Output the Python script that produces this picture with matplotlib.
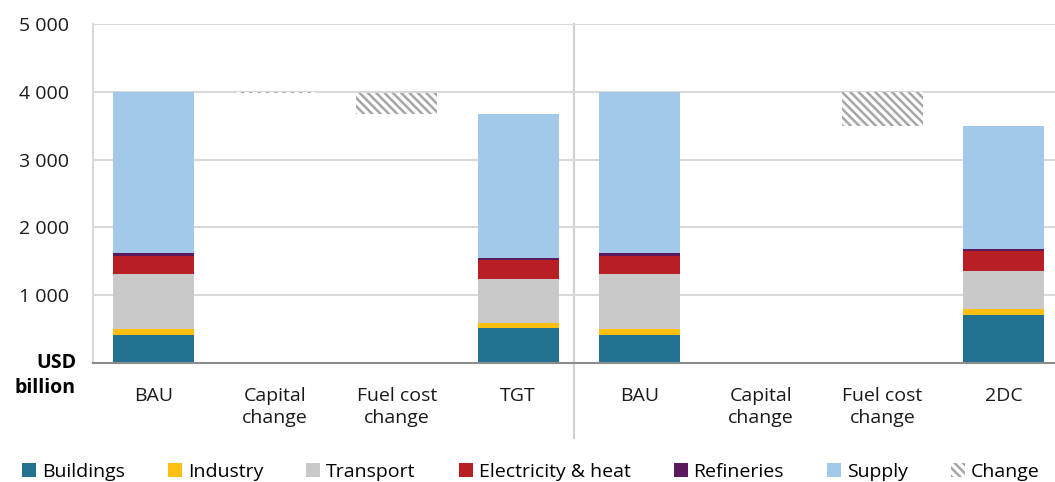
import matplotlib
matplotlib.use("Agg")
import matplotlib.pyplot as plt
from matplotlib.patches import Patch
from matplotlib.lines import Line2D
import numpy as np

plt.rcParams['font.family'] = ['Open Sans', 'DejaVu Sans']
plt.rcParams['hatch.linewidth'] = 1.8

# categories on the x axis
categories = ["BAU", "Capital\nchange", "Fuel cost\nchange", "TGT",
              "BAU", "Capital\nchange", "Fuel cost\nchange", "2DC"]

# stacked sectors for the scenario bars (USD billion); None for change columns
sectors = ["Buildings", "Industry", "Transport", "Electricity & heat", "Refineries", "Supply"]
buildings = [410, None, None, 515, 410, None, None, 705]
industry = [95, None, None, 80, 95, None, None, 90]
transport = [810, None, None, 645, 810, None, None, 555]
electricity = [270, None, None, 280, 270, None, None, 295]
refineries = [35, None, None, 35, 35, None, None, 35]
supply = [2380, None, None, 2120, 2380, None, None, 1820]

# waterfall changes between scenarios
changes = [None, -20, -305, None, None, -10, -490, None]

colors = ["#237190", "#fdc010", "#c9c9c9", "#b81f24", "#5a1a5c", "#a3c9ea"]
hatch_col = "#a6a6a6"
HATCH = "\\\\\\\\"

fig = plt.figure(figsize=(10.55, 4.82), dpi=100)
ax = fig.add_axes((93 / 1055, 1 - 363 / 482, 1 - 93 / 1055, (363 - 24) / 482))

x = np.arange(len(categories))
width = 0.667
series = [buildings, industry, transport, electricity, refineries, supply]

# stacked scenario bars
for i in range(len(categories)):
    if buildings[i] is None:
        continue
    bottom = 0
    for s, c in zip(series, colors):
        ax.bar(x[i], s[i], width, bottom=bottom, color=c, linewidth=0, zorder=3)
        bottom += s[i]

# waterfall change bars
level = 0
for i in range(len(categories)):
    if buildings[i] is not None:
        level = sum(s[i] for s in series)
        continue
    d = changes[i]
    ax.bar(x[i], -d, width, bottom=level + d, color="white", edgecolor=hatch_col,
           hatch=HATCH, linewidth=0, zorder=3)
    level += d

ax.set_xlim(-0.5, 7.42)
ax.set_ylim(0, 5000)
ax.set_yticks(range(0, 5001, 1000))
ax.set_yticklabels(["", "1 000", "2 000", "3 000", "4 000", "5 000"])
ax.set_xticks(x)
ax.set_xticklabels(categories, linespacing=1.3)
ax.tick_params(axis="y", length=0, pad=17, labelsize=14, labelcolor="#1a1a1a")
ax.tick_params(axis="x", length=0, pad=17, labelsize=14, labelcolor="#1a1a1a")

ax.grid(axis="y", color="#d9d9d9", linewidth=1.5, zorder=0)
for sp in ["top", "right"]:
    ax.spines[sp].set_visible(False)
ax.spines["left"].set_color("#d9d9d9")
ax.spines["left"].set_linewidth(1.5)
ax.spines["bottom"].set_color("#8c8c8c")
ax.spines["bottom"].set_linewidth(1.5)
ax.spines["bottom"].set_zorder(4)

# separator between the two scenario groups
ax.add_line(Line2D([3.46, 3.46], [1.0, -0.221], transform=ax.get_xaxis_transform(),
                   color="#d0d0d0", linewidth=1.5, clip_on=False, zorder=1))

fig.text(76 / 1055, 1 - 375.5 / 482, "USD\nbillion", ha="right", va="center",
         fontsize=14, fontweight="bold", multialignment="right", linespacing=1.3)

handles = [Patch(facecolor=c, linewidth=0) for c in colors]
handles.append(Patch(facecolor="white", edgecolor=hatch_col, hatch=HATCH, linewidth=0))
fig.legend(handles, sectors + ["Change"], loc="center left", bbox_to_anchor=(22 / 1055, 1 - 472 / 482),
           ncol=7, frameon=False, fontsize=14, handlelength=0.72, handleheight=0.72,
           handletextpad=0.3, columnspacing=2.22, borderpad=0, borderaxespad=0)

fig.savefig("out.png", dpi=100)
